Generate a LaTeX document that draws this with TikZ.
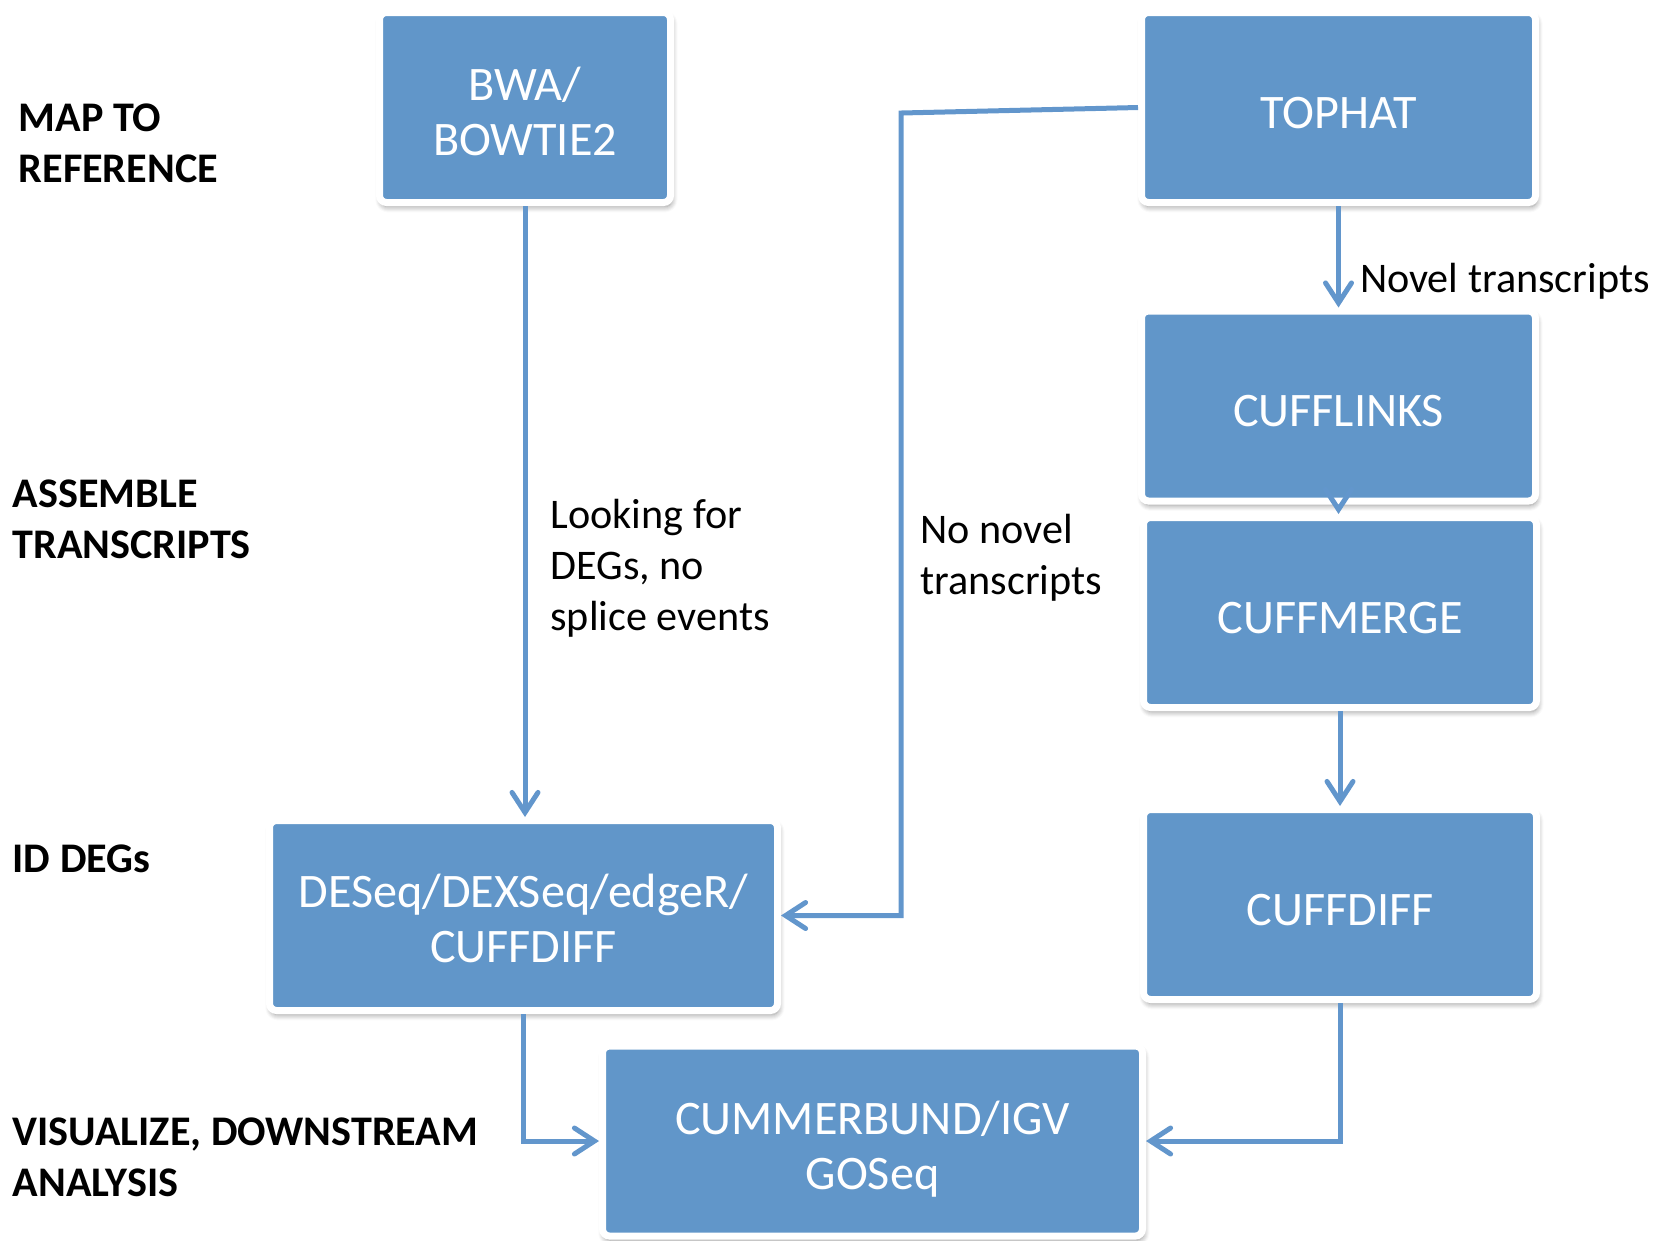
\documentclass[tikz,border=0pt]{standalone}
\usepackage{fontspec}
\setmainfont{Carlito}
\usepackage{tikz}
\usetikzlibrary{arrows.meta, positioning, shadows.blur}
\definecolor{FlowBlue}{RGB}{97, 150, 201}
\definecolor{FlowLine}{RGB}{98, 150, 204}

\begin{document}
\begin{tikzpicture}[
  tool/.style={draw=white, line width=0.07cm, fill=FlowBlue, rounded corners=2pt,
    inner sep=0pt, minimum height=1.9cm, align=center, text=white,
    font=\fontsize{13.7}{15.6}\selectfont,
    execute at begin node={\rule{0pt}{0.42cm}},
    blur shadow={shadow xshift=0.4pt, shadow yshift=-1.2pt, shadow blur radius=1.6pt,
      shadow blur steps=6, shadow opacity=45}},
  stage/.style={anchor=west, inner sep=0pt, align=left,
    font=\fontsize{12}{14.5}\selectfont\bfseries},
  note/.style={inner sep=0pt, align=left, text=black, font=\fontsize{12}{14.4}\selectfont},
  arr/.style={-{Straight Barb[length=0.2cm, width=0.26cm, line cap=round]},
    FlowLine, line width=0.05cm}
]
\useasboundingbox (0,0) rectangle (16.6,-12.4);

\node[tool, minimum width=2.91cm] (bwa) at (5.25,-1.075) {\rule{0pt}{0.41cm}BWA/\\BOWTIE2};
\node[tool, minimum width=3.94cm] (tophat) at (13.385,-1.075) {TOPHAT};
\node[tool, minimum width=3.94cm] (cufflinks) at (13.385,-4.06) {CUFFLINKS};
\node[tool, minimum width=3.93cm] (cuffmerge) at (13.40,-6.125) {CUFFMERGE};
\node[tool, minimum width=3.93cm] (cuffdiff) at (13.40,-9.045) {CUFFDIFF};
\node[tool, minimum width=5.08cm] (deseq) at (5.235,-9.155) {\rule{0pt}{0.40cm}DESeq/DEXSeq/edgeR/\\CUFFDIFF};
\node[tool, minimum width=5.40cm] (cummer) at (8.725,-11.41) {\rule{0pt}{0.49cm}CUMMERBUND/IGV\\GOSeq};

\node[stage] (map) at (0.18,-1.43) {MAP TO\\REFERENCE};
\node[stage] (assemble) at (0.12,-5.195) {ASSEMBLE\\TRANSCRIPTS};
\node[stage] (iddeg) at (0.12,-8.59) {ID DEGs};
\node[stage] (visual) at (0.12,-11.575) {VISUALIZE, DOWNSTREAM\\ANALYSIS};

\coordinate (bend) at (9.01,-1.13);

\draw[arr] (bwa.south) -- (bwa.south |- deseq.north)
  node[note, pos=0.593, right=0.23cm] {Looking for\\DEGs, no\\splice events};
\draw[arr] (tophat.west) -- (bend) |- node[note, pos=0.277, right=0.17cm] {No novel\\transcripts} (deseq.east);
\draw[arr] (tophat.south) -- (cufflinks.north)
  node[note, pos=0.74, right=0.19cm] {Novel transcripts};
\draw[arr] (cufflinks.south) -- (cufflinks.south |- cuffmerge.north);
\draw[arr] (cuffmerge.south) -- (cuffdiff.north);
\draw[arr] (deseq.south) |- (cummer.west);
\draw[arr] (cuffdiff.south) |- (cummer.east);
\end{tikzpicture}
\end{document}
